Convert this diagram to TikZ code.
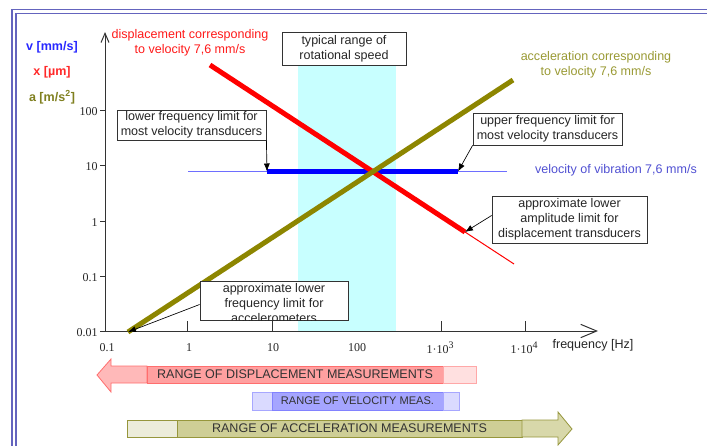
\documentclass[tikz,border=0pt]{standalone}
\usepackage{fontspec}
\setmainfont{Liberation Sans}
\newfontfamily\serifnum{Liberation Serif}
\usetikzlibrary{arrows.meta}

\definecolor{framecol}{RGB}{100,100,190}
\definecolor{bandcyan}{RGB}{200,255,255}
\definecolor{vthin}{RGB}{110,110,255}
\definecolor{vlabel}{RGB}{80,80,210}
\definecolor{olivetext}{RGB}{153,153,51}
\definecolor{vaxis}{RGB}{40,40,255}
\definecolor{xaxis}{RGB}{255,40,40}
\definecolor{aaxis}{RGB}{128,128,32}
\definecolor{dispfill}{RGB}{255,160,160}
\definecolor{dispedge}{RGB}{255,110,110}
\definecolor{disphead}{RGB}{255,185,185}
\definecolor{disptail}{RGB}{255,224,224}
\definecolor{velfill}{RGB}{165,165,255}
\definecolor{veledge}{RGB}{130,130,255}
\definecolor{velend}{RGB}{218,218,255}
\definecolor{accfill}{RGB}{206,206,150}
\definecolor{accedge}{RGB}{150,150,60}
\definecolor{accstart}{RGB}{236,236,218}
\definecolor{acchead}{RGB}{216,216,170}

\newcommand{\decexp}[1]{\raisebox{0.9ex}{\fontsize{7.5}{8}\selectfont #1}}

\begin{document}
\begin{tikzpicture}[x=0.75pt,y=-0.75pt,
	note/.style={draw=black!80, fill=white, align=center, inner sep=0pt, line width=0.6pt, text=black!85, font=\fontsize{9.4}{11.2}\selectfont},
	pointer/.style={-{Latex[length=6pt,width=4.5pt]}, line width=0.5pt},
	ticklabel/.style={inner sep=1pt, text=black!85, font=\serifnum\fontsize{9}{10}\selectfont},
	label/.style={align=center, font=\fontsize{9.4}{11.5}\selectfont},
	unit/.style={font=\bfseries\fontsize{9.4}{11}\selectfont},
	rangebar/.style={line width=0.6pt, inner sep=0pt, text=black!80, font=\fontsize{9.4}{10}\selectfont}]
	\useasboundingbox (0,0) rectangle (707,446);
	
	\draw[framecol, double=white, double distance=2pt, line width=0.9pt] (14,446) -- (14,11.5) -- (707,11.5);
	
	\fill[bandcyan] (298,65) rectangle (396,331);
	
	\draw[black!80, line width=0.75pt, -{Straight Barb[length=7pt,width=6pt]}] (105,331) -- (105,32);
	\draw[black!80, line width=0.75pt, -{Straight Barb[length=12pt,width=10pt]}] (105,331) -- (598,331);
	\foreach \y/\lab in {110/100, 165.5/10, 221/1, 276/0.1, 331/0.01}
		\draw[black!80, line width=0.75pt] (105,\y) -- (100,\y) node[ticklabel, left=0.5pt, yshift=-1pt] {\lab};
	\foreach \x in {187,272,441,525}
		\draw[black!80, line width=0.75pt] (\x,331) -- (\x,321);
	\foreach \x/\lab in {107/0.1, 189/1, 273/10, 357/100, 440/1·10\decexp{3}, 524/1·10\decexp{4}}
		\node[ticklabel] at (\x,348) {\lab};
	\node[label, text=black!85] (freqlabel) at (593,345) {frequency [Hz]};
	
	\coordinate (vstart) at (188,171.5);
	\coordinate (vend) at (507,171.5);
	\coordinate (vlow) at (267,171.5);
	\coordinate (vhigh) at (458,171.5);
	\coordinate (dtop) at (210,65);
	\coordinate (dlow) at (465,232);
	\coordinate (dend) at (514,264);
	\coordinate (abot) at (128,332);
	\coordinate (atop) at (513,80);
	
	\draw[vthin, line width=0.75pt] (vstart) -- (vend);
	\draw[blue, line width=3.75pt] (vlow) -- (vhigh);
	\draw[red, line width=0.75pt] (dlow) -- (dend);
	\draw[red, line width=3.75pt] (dtop) -- (dlow);
	\draw[olive, line width=3.75pt] (abot) -- (atop);
	
	\node[unit, text=vaxis] (vunit) at (52,47) {v [mm/s]};
	\node[unit, text=xaxis] (xunit) at (52,72) {x [µm]};
	\node[unit, text=aaxis] (aunit) at (52,97) {a [m/s\textsuperscript{2}]};
	
	\node[label, text=red!90] (displabel) at (190,43) {displacement corresponding\\to velocity 7,6 mm/s};
	\node[label, text=olivetext] (acclabel) at (596,65) {acceleration corresponding\\to velocity 7,6 mm/s};
	\node[label, text=vlabel] (vellabel) at (616,170) {velocity of vibration 7,6 mm/s};
	
	\node[note, minimum width=93pt, minimum height=24.75pt] (speedbox) at (344,48.5) {typical range of\\rotational speed};
	\node[note, minimum width=111.75pt, minimum height=22.5pt] (lowvbox) at (191.5,125) {lower frequency limit for\\most velocity transducers};
	\node[note, minimum width=111.75pt, minimum height=24pt] (upvbox) at (547.5,129) {upper frequency limit for\\most velocity transducers};
	\node[note, minimum width=116.25pt, minimum height=35.25pt] (dispbox) at (569.5,219.5) {approximate lower\\amplitude limit for\\displacement transducers};
	\node[note, minimum width=111pt, minimum height=29.25pt] (accbox) at (274,300.5) {};
	\begin{scope}
		\clip (accbox.south west) rectangle (accbox.north east);
		\node[note, draw=none, fill=none, anchor=north, yshift=-2pt] (acctext) at (accbox.north) {approximate lower\\frequency limit for\\accelerometers};
	\end{scope}
	
	\draw[pointer] (lowvbox.south east) -- (vlow);
	\draw[pointer] (upvbox.south west) -- (vhigh);
	\draw[pointer] ([yshift=3pt]dispbox.west) -- (dlow);
	\draw[pointer] ([yshift=-3pt]accbox.west) -- (abot);
	
	\filldraw[fill=disphead, draw=dispedge, line width=0.6pt] (97,375) -- (111,359) -- (111,366) -- (147,366) -- (147,383) -- (111,383) -- (111,392) -- cycle;
	\node[rangebar, fill=dispfill, draw=dispedge, minimum width=222pt, minimum height=12.75pt] (disprange) at (295,374.5) {RANGE OF DISPLACEMENT MEASUREMENTS};
	\filldraw[fill=disptail, draw=dispedge!60, line width=0.6pt] (443,366) rectangle (476,383);
	
	\filldraw[fill=velend, draw=veledge!70, line width=0.6pt] (252,392) rectangle (272,410);
	\node[rangebar, fill=velfill, draw=veledge, minimum width=128.25pt, minimum height=13.5pt, font=\fontsize{8.3}{10}\selectfont] (velrange) at (357.5,401) {RANGE OF VELOCITY MEAS.};
	\filldraw[fill=velend, draw=veledge!70, line width=0.6pt] (443,392) rectangle (459,410);
	
	\filldraw[fill=accstart, draw=accedge, line width=0.6pt] (127,420) rectangle (177,437);
	\node[rangebar, fill=accfill, draw=accedge, minimum width=258.75pt, minimum height=12.75pt] (accrange) at (349.5,428.5) {RANGE OF ACCELERATION MEASUREMENTS};
	\filldraw[fill=acchead, draw=accedge, line width=0.6pt] (522,420) -- (558,420) -- (558,412) -- (572,429) -- (558,445) -- (558,437) -- (522,437) -- cycle;
\end{tikzpicture}
\end{document}
